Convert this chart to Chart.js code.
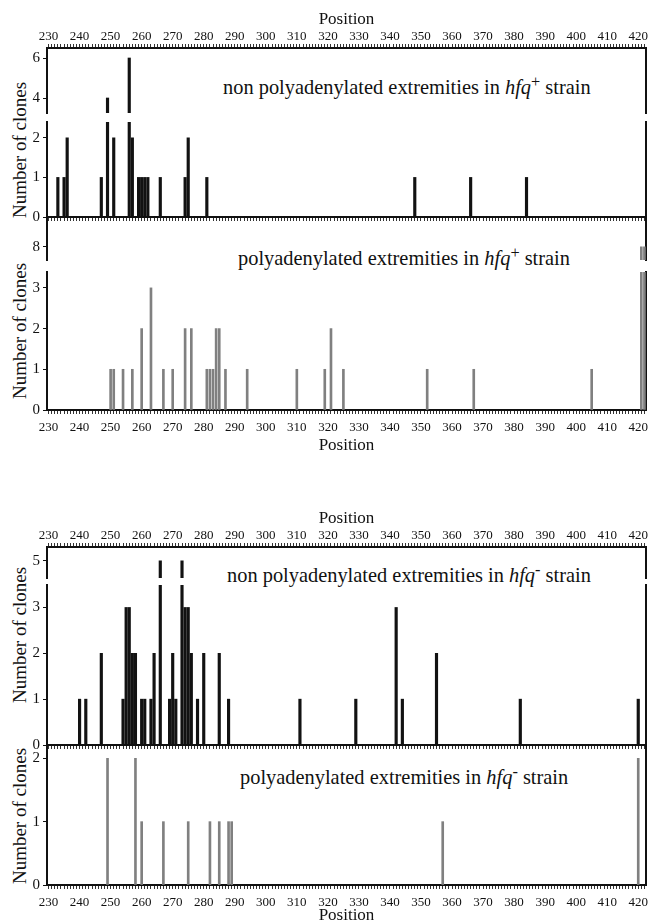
<!DOCTYPE html>
<html><head><meta charset="utf-8">
<script src="https://cdn.jsdelivr.net/npm/chart.js@4.4.1/dist/chart.umd.min.js"></script>
<style>
body{margin:0;background:#fff;width:655px;height:924px;position:relative;overflow:hidden;font-family:"Liberation Serif","DejaVu Serif",serif;color:#111;}
canvas{position:absolute;left:0;}
.note{position:absolute;font-size:20.4px;line-height:1;white-space:nowrap;}
.note sup{font-size:0.8em;line-height:0;vertical-align:0.45em;}
.ytitle{position:absolute;left:19px;font-size:19px;line-height:1;white-space:nowrap;transform:translate(-50%,-50%) rotate(-90deg);}
</style></head><body>
<div class="note" style="left:223px;top:77px">non polyadenylated extremities in <i>hfq</i><sup>+</sup> strain</div>
<div class="note" style="left:238px;top:248px">polyadenylated extremities in <i>hfq</i><sup>+</sup> strain</div>
<div class="note" style="left:227px;top:565px">non polyadenylated extremities in <i>hfq</i><sup>-</sup> strain</div>
<div class="note" style="left:240px;top:767px">polyadenylated extremities in <i>hfq</i><sup>-</sup> strain</div>
<div class="ytitle" style="top:150px">Number of clones</div>
<div class="ytitle" style="top:331px">Number of clones</div>
<div class="ytitle" style="top:635px">Number of clones</div>
<div class="ytitle" style="top:816px">Number of clones</div>
<script>
// ---- data ----
const positionTicks = [230,240,250,260,270,280,290,300,310,320,330,340,350,360,370,380,390,400,410,420];

// non polyadenylated extremities, hfq+ strain
const posNonPolyPlus = [233,235,236,247,249,251,256,257,259,260,261,262,266,274,275,281,348,366,384];
const cntNonPolyPlus = [1,1,2,1,4,2,6,2,1,1,1,1,1,1,2,1,1,1,1];

// polyadenylated extremities, hfq+ strain
const posPolyPlus = [250,251,254,257,260,263,267,270,274,276,281,282,283,284,285,287,294,310,319,321,325,352,367,405,421,422];
const cntPolyPlus = [1,1,1,1,2,3,1,1,2,2,1,1,1,2,2,1,1,1,1,2,1,1,1,1,8,8];

// non polyadenylated extremities, hfq- strain
const posNonPolyMinus = [240,242,247,254,255,256,257,258,260,261,263,264,266,269,270,271,273,274,275,276,278,280,285,288,311,329,342,344,355,382,420];
const cntNonPolyMinus = [1,1,2,1,3,3,2,2,1,1,1,2,5,1,2,1,5,3,3,2,1,2,2,1,1,1,3,1,2,1,1];

// polyadenylated extremities, hfq- strain
const posPolyMinus = [249,258,260,267,275,282,285,288,289,357,420];
const cntPolyMinus = [2,2,1,1,1,1,1,1,1,1,2];

const yTicksNonPolyPlus = [0,1,2,4,6];
const yTicksPolyPlus = [0,1,2,3,8];
const yTicksNonPolyMinus = [0,1,2,3,5];
const yTicksPolyMinus = [0,1,2];

// ---- drawing ----
const FONT = '"Liberation Serif", "DejaVu Serif", serif';
const X_MIN = 229.5, X_MAX = 422.5;
const PAD = 12;
const BLACK = '#121212', GREY = '#808080';

function makeSegment(o) {
  const where = o.axis ? o.axis.where : null;
  const topH = where === 'top' ? o.axis.h : 0;
  const botH = where === 'bottom' ? o.axis.h : 0;
  const areaH = o.areaBottom - o.areaTop;
  const c = document.createElement('canvas');
  c.width = 655;
  c.height = PAD + topH + areaH + botH + PAD;
  c.style.top = (o.areaTop - topH - PAD) + 'px';
  document.body.appendChild(c);
  const showLabels = !!(o.axis && o.axis.labels);
  const showTitle = !!(o.axis && o.axis.title);
  new Chart(c, {
    type: 'bar',
    data: { datasets: [{
      data: o.pos.map((p, i) => ({ x: p, y: o.cnt[i] })),
      backgroundColor: o.color, borderWidth: 0, barThickness: o.bar
    }]},
    options: {
      responsive: false, animation: false, devicePixelRatio: 1,
      layout: { padding: { top: PAD, bottom: PAD, left: 0, right: 0 } },
      plugins: { legend: { display: false }, tooltip: { enabled: false } },
      scales: {
        x: {
          type: 'linear', display: !!where, position: where || 'bottom',
          min: X_MIN, max: X_MAX, offset: false,
          afterBuildTicks: s => { const t = []; for (let v = 230; v <= 422; v++) t.push({ value: v }); s.ticks = t; },
          afterFit: s => { s.height = where ? o.axis.h : 0; },
          ticks: { display: showLabels, autoSkip: false, maxRotation: 0, minRotation: 0,
                   padding: where === 'top' ? 0 : 6,
                   color: '#111', font: { family: FONT, size: 13 },
                   callback: v => positionTicks.includes(v) ? String(v) : '' },
          grid: { display: true, drawOnChartArea: false, drawTicks: true, tickLength: 4, tickWidth: 1,
                  color: '#333', offset: false },
          border: { display: true, color: '#111', width: 2 },
          title: { display: showTitle, text: 'Position', color: '#111', font: { family: FONT, size: 17 },
                   padding: where === 'top' ? { top: 9, bottom: 0 } : { top: 0, bottom: 1 } }
        },
        y: {
          type: 'linear', position: 'left', min: o.yMin, max: o.yMax,
          afterBuildTicks: s => { s.ticks = o.yTicks.filter(v => v >= o.yMin && v <= o.yMax).map(v => ({ value: v })); },
          afterFit: s => { s.width = 47; },
          ticks: { color: '#111', padding: 3, font: { family: FONT, size: 15 } },
          grid: { drawOnChartArea: false, drawTicks: true, tickLength: 4, color: '#111' },
          border: { display: true, color: '#111', width: 2 }
        },
        yr: {
          type: 'linear', position: 'right', min: o.yMin, max: o.yMax,
          afterFit: s => { s.width = 9; },
          ticks: { display: false }, grid: { display: false },
          border: { display: true, color: '#111', width: 2 }
        }
      }
    }
  });
}

// Figure 1: hfq+ strain
makeSegment({ areaTop: 48, areaBottom: 113, yMin: 3.25, yMax: 6.5, yTicks: yTicksNonPolyPlus, bar: 2.5,
  pos: posNonPolyPlus, cnt: cntNonPolyPlus, color: BLACK, axis: { where: 'top', h: 48, labels: true, title: true } });
makeSegment({ areaTop: 122, areaBottom: 217, yMin: 0, yMax: 2.4, yTicks: yTicksNonPolyPlus, bar: 2.5,
  pos: posNonPolyPlus, cnt: cntNonPolyPlus, color: BLACK, axis: { where: 'bottom', h: 5 } });
makeSegment({ areaTop: 217, areaBottom: 260, yMin: 7.68, yMax: 8.73, yTicks: yTicksPolyPlus, bar: 2,
  pos: posPolyPlus, cnt: cntPolyPlus, color: GREY, axis: null });
makeSegment({ areaTop: 272, areaBottom: 410, yMin: 0, yMax: 3.39, yTicks: yTicksPolyPlus, bar: 2,
  pos: posPolyPlus, cnt: cntPolyPlus, color: GREY, axis: { where: 'bottom', h: 47, labels: true, title: true } });

// Figure 2: hfq- strain
makeSegment({ areaTop: 547, areaBottom: 578, yMin: 4.64, yMax: 5.29, yTicks: yTicksNonPolyMinus, bar: 2.5,
  pos: posNonPolyMinus, cnt: cntNonPolyMinus, color: BLACK, axis: { where: 'top', h: 48, labels: true, title: true } });
makeSegment({ areaTop: 585, areaBottom: 745, yMin: 0, yMax: 3.49, yTicks: yTicksNonPolyMinus, bar: 2.5,
  pos: posNonPolyMinus, cnt: cntNonPolyMinus, color: BLACK, axis: { where: 'bottom', h: 5 } });
makeSegment({ areaTop: 745, areaBottom: 885, yMin: 0, yMax: 2.21, yTicks: yTicksPolyMinus, bar: 2,
  pos: posPolyMinus, cnt: cntPolyMinus, color: GREY, axis: { where: 'bottom', h: 42, labels: true, title: true } });
</script>
</body></html>
